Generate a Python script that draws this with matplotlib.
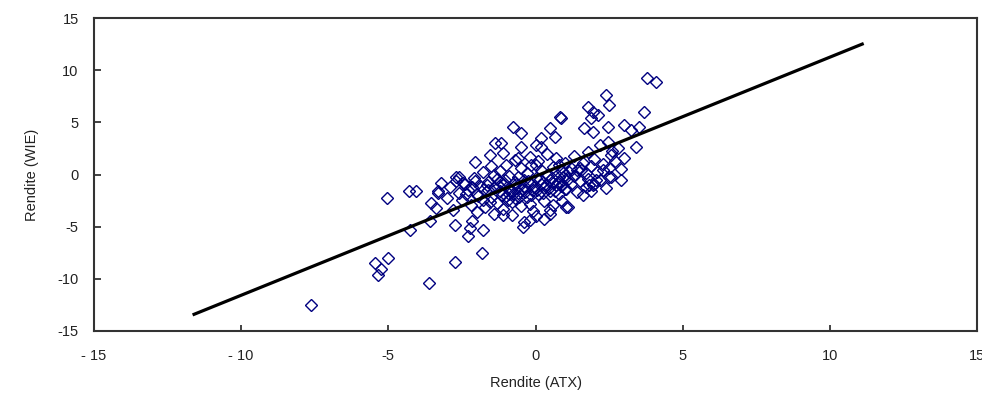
import matplotlib.pyplot as plt

plt.rcParams['font.family'] = ['Liberation Sans', 'DejaVu Sans']
plt.rcParams['axes.unicode_minus'] = False

# Renditen (in %): ATX (x) gegen WIE (y)
rendite_atx = [
    -7.62, -5.44, -5.02, -5.24, -5.36, -3.62, -2.75, -1.81,
    -4.28, -3.60, -2.75, -2.24, -2.30, -2.15,
    -5.05, -4.30, -4.05, -3.32, -3.30, -3.54, -3.37,
    -2.07, -2.70,
    0.82, 0.48, -0.77, -0.49, -1.39, -1.17, -0.49, 0.19, 0.65, -1.56, -1.11, -0.60, 0.02, -0.15,
    3.78, 4.10, 2.40, 2.49, 1.78, 1.95, 2.12, 1.89, 3.70, 0.87, 1.66, 1.95, 2.46, 3.02, 3.25, 3.53,
    2.46, 3.42, 2.80, 2.57, 3.02, 2.29, 2.57, 1.95, 1.55,
    -0.43, -0.20, -1.11, 0.48, 1.04, -1.79, 2.06, 1.83,
    # dichter Kern
    -2.9, -2.7, -2.6, -2.5, -2.4, -2.3, -2.2, -2.1, -2.0, -2.0, -1.9, -1.8, -1.8, -1.7,
    -1.6, -1.6, -1.5, -1.5, -1.4, -1.4, -3.0, -2.8, -2.6, -3.2,
    -1.3, -1.3, -1.2, -1.2, -1.1, -1.1, -1.0, -1.0, -0.9, -0.9, -0.8, -0.8, -0.7, -0.7,
    -0.6, -0.6, -0.5, -0.5, -0.4, -0.4, -0.3, -0.3, -0.2, -0.2, -0.1, -0.1, 0.0, 0.0,
    -1.2, -0.6, -0.4, -0.9, -0.2, -1.4, -0.7,
    0.1, 0.1, 0.2, 0.2, 0.3, 0.3, 0.4, 0.4, 0.5, 0.5, 0.6, 0.6, 0.7, 0.7, 0.8, 0.8,
    0.9, 0.9, 1.0, 1.0, 1.1, 1.1, 1.2, 1.2, 1.3, 1.3, 1.4, 1.4, 0.5, 0.3, 0.9, 0.0,
    0.2, 0.6, 1.0, 0.8,
    1.5, 1.6, 1.7, 1.7, 1.8, 1.8, 1.9, 2.0, 2.0, 2.1, 2.2, 2.3, 2.4, 2.5, 2.6, 2.7,
    2.9, 2.2, 1.6, 1.9, 2.5, 1.5, 2.9,
    -1.25, -1.05, -0.85, -0.65, -0.45, -0.25, -0.05, 0.15, 0.35, 0.55, 0.75, 0.95, 1.15,
    -1.15, -0.95, -0.75, -0.55, -0.35, -0.15, 0.05, 0.25, 0.45, 0.65, 0.85, 1.05,
    -2.35, -2.15, -1.95, -1.75, -1.55, -2.45, -2.05, -1.65,
]
rendite_wie = [
    -12.5, -8.5, -8.0, -9.1, -9.65, -10.4, -8.36, -7.55,
    -5.3, -4.5, -4.84, -5.16, -5.9, -4.5,
    -2.28, -1.58, -1.58, -1.58, -1.75, -2.76, -3.24,
    1.23, -0.2,
    5.54, 4.43, 4.58, 3.95, 2.99, 2.99, 2.67, 3.47, 3.62, 1.87, 2.03, 1.55, 2.83, 0.91,
    9.22, 8.9, 7.62, 6.66, 6.5, 6.0, 5.7, 5.39, 6.0, 5.39, 4.43, 4.1, 4.58, 4.75, 4.27, 4.58,
    3.15, 2.67, 2.51, 1.87, 1.55, 0.43, -0.21, -1.0, 0.43,
    -5.0, -4.36, -3.88, -3.4, -3.09, -5.3, -0.53, -1.0,
    # dichter Kern
    -1.2, -0.6, -1.8, -2.4, -0.9, -1.5, -2.9, -0.3, -1.9, -3.6, -1.1, -2.4, 0.2, -3.1,
    -1.5, -0.7, -2.2, 0.8, -3.8, -1.2, -2.3, -3.4, -0.2, -0.8,
    -0.4, -2.7, -1.6, 0.3, -3.3, -0.9, -2.1, 0.9, -1.3, -0.1, -2.6, -3.9, -0.7, 1.4,
    -1.8, -0.2, -3.0, 0.6, -1.1, -4.6, -2.2, 0.1, -0.8, 1.7, -1.5, -3.5, -0.3, 0.9,
    -0.7, -1.0, -0.5, -1.9, -2.8, 0.0, -2.3,
    -1.9, 1.3, -0.9, 0.4, -2.5, -1.3, 0.0, 2.0, -1.6, -0.5, 0.7, -2.9, -1.0, 1.6, -0.2, -1.9,
    0.3, -0.9, 1.1, -1.4, -0.4, -3.1, 0.6, -0.9, 1.8, -0.1, -1.7, 0.4, -3.8, -4.3, -2.5, -4.0,
    2.6, -0.8, 0.0, 0.9,
    -0.6, 1.1, -1.2, 0.1, 2.2, -0.4, 0.8, -0.9, 1.5, 0.2, -0.5, 1.0, -1.3, 0.6, 2.3, 1.3,
    0.5, 2.8, -2.0, -1.6, -0.2, 0.6, -0.5,
    -1.1, -0.5, -1.6, -0.9, -1.4, -0.6, -1.2, -0.4, -1.0, -0.3, -0.7, -0.2, 0.2,
    -2.0, -2.4, -1.9, -2.2, -1.7, -2.0, -1.5, -1.8, -1.3, -1.6, -1.1, -1.4,
    -1.9, -1.2, -2.1, -1.4, -2.6, -0.8, -0.6, -1.0,
]

# Regressionsgerade (Endpunkte)
linie_atx = [-11.6, 11.1]
linie_wie = [-13.4, 12.5]

x_ticks = [-15, -10, -5, 0, 5, 10, 15]
x_tick_labels = ['- 15', '- 10', '-5', '0', '5', '10', '15']
y_ticks = [-15, -10, -5, 0, 5, 10, 15]

fig = plt.figure(figsize=(9.82, 3.99), dpi=100)
ax = fig.add_axes([94 / 982, 1 - 331 / 399, 883 / 982, 313 / 399])

ax.plot(rendite_atx, rendite_wie, linestyle='none', marker='D', ms=6.0,
        mfc='none', mec='#000080', mew=1.0, zorder=2)
ax.plot(linie_atx, linie_wie, color='black', lw=2.3, zorder=3)

ax.set_xlim(-15, 15)
ax.set_ylim(-15, 15)
ax.set_xticks(x_ticks)
ax.set_xticklabels(x_tick_labels)
ax.set_yticks(y_ticks)
ax.tick_params(axis='x', direction='in', length=4, width=1.2, pad=13, labelsize=10.5, colors='#222222')
ax.tick_params(axis='y', direction='in', length=5, width=1.2, pad=11, labelsize=10.5, colors='#222222')
ax.tick_params(top=False, right=False)
for s in ax.spines.values():
    s.set_linewidth(1.5)
    s.set_color('#333333')

ax.set_xlabel('Rendite (ATX)', fontsize=10.5, labelpad=9, color='#222222')
ax.set_ylabel('Rendite (WIE)', fontsize=10.5, labelpad=13, color='#222222')

fig.savefig('out.png', dpi=100)
